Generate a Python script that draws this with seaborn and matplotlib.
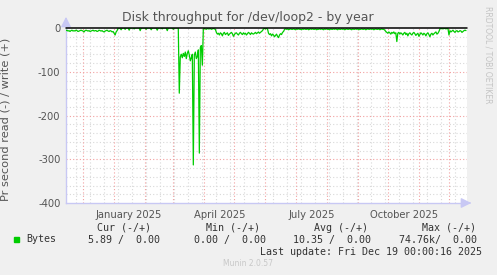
import matplotlib
matplotlib.use("Agg")
import matplotlib.pyplot as plt
import matplotlib.dates as mdates
import seaborn as sns
import numpy as np
import pandas as pd

# ---------------- data ----------------
start_date = "2024-11-14 00:16"
end_date = "2025-12-19 00:16"

seg_a = [6,5,7,6,8,6,5,7,6,7, 5,6,8,7,6,5,6,7,9,6, 5,6,7,6,8,7,6,5,7,6,
         6,8,7,5,6,7,6,8,9,7, 6,5,7,8,6,7,9,8,12,16, 9,6]
seg_b = [0,0,1,4,0,0,0,3,0,0, 0,5,0,0,0,0,2,0,0,0, 0,0,6,0,0,0,0,0,3,0,
         0,0,0,4,0,0,0,0,0,5, 0,0,0,0,2,0,0,0,0,6, 0,0,0,0,0,3,0,0,0,0, 0]
seg_c = [149, 66,60,68,58,65,55,70,58,52,62,75,68,60, 313, 62,55,70,65,50,
         286,45,40,85]
seg_d = [2,1,2,3,1,2,2,1,3,2,1,2,3]
seg_e = [10,14,12,16,11,13,18,12,10,15, 13,11,17,14,12,10,13,19,15,12,
         11,14,16,12,10,13,15,11,14,12, 16,13,10,12,15,11,13,14,12,10,
         13,11,9,12,10,8,6]
seg_f = [2,1,2,1,2]
seg_g = [12,15,13,18,14,16,20,17,14,19,22,16,13,15,10,8]
seg_h = [3,2,3,2,4,3,2,3,3,2, 3,4,2,3,2,3,3,4,2,3, 2,3,3,2,4,3,2,3,2,3,
         3,2,4,3,3,2,3,2,3,4, 2,3,2,3,3,4,2,3,3,2, 3,2,3,4,2,3,3,2,3,2,
         4,3,2,3,3,2,3,4,2,3, 3,2,3,2,4,3,3,2,3,3, 2,4,3,2,3,3,2,3,2,4,
         3,2,3,3,2,4,3,2,3,3, 5]
seg_i = [8,10,12,9,11,14,10,12,9,13, 11,31,12,10,14,11,13,16,12,10,
         15,12,18,13,11,14,16,12,10,13, 17,14,12,19,15,11,13,16,12,14,
         18,13,11,15,20,14,12,16,13,11, 9,14,12,8]
seg_j = [2,1,1,2,1,1,2,1,1]
seg_k = [16]
seg_l = [6,9,7,5,8,10,7,6,9,8,6,7,10,8,6,5,6]

read_values = seg_a + seg_b + seg_c + seg_d + seg_e + seg_f + seg_g + seg_h + seg_i + seg_j + seg_k + seg_l

y_ticks = [0, -100, -200, -300, -400]
month_labels = ["January 2025", "April 2025", "July 2025", "October 2025"]
month_label_dates = ["2025-01-16", "2025-04-16", "2025-07-17", "2025-10-17"]

title = "Disk throughput for /dev/loop2 - by year"
ylabel = "Pr second read (-) / write (+)"
legend_headers = ["Cur (-/+)", "Min (-/+)", "Avg (-/+)", "Max (-/+)"]
legend_values = ["5.89 /  0.00", "0.00 /  0.00", "10.35 /  0.00", "74.76k/  0.00"]
series_name = "Bytes"
last_update = "Last update: Fri Dec 19 00:00:16 2025"
footer = "Munin 2.0.57"
side_text = "RRDTOOL / TOBI OETIKER"

# ---------------- figure ----------------
sns.set_theme(style="white")
plt.rcParams['font.family'] = ['DejaVu Sans']

W, H = 497, 275
fig = plt.figure(figsize=(W / 100, H / 100), dpi=100, facecolor="#F0F0F0")
ax = fig.add_axes([66 / W, 1 - 203 / H, 401 / W, 175 / H])
ax.set_facecolor("white")

dates = pd.date_range(start_date, periods=len(read_values), freq="D")
df = pd.DataFrame({"date": dates, "value": [-v for v in read_values]})

t0 = pd.Timestamp(start_date)
t1 = pd.Timestamp(end_date)
ax.set_xlim(t0, t1)
ax.set_ylim(-400, 0)

# grid lines
minor_grid = "#D8D8D8"
major_grid = "#F2A0A0"
for v in range(-380, 0, 20):
    if v % 100 != 0:
        ax.axhline(v, color=minor_grid, lw=0.8, ls=(0, (1, 2)), zorder=1)
for v in [-100, -200, -300]:
    ax.axhline(v, color=major_grid, lw=0.8, ls=(0, (1, 2)), zorder=1.5)
for d in pd.date_range("2024-11-24", t1, freq="14D"):
    ax.axvline(d, color=minor_grid, lw=0.8, ls=(0, (1, 2)), zorder=1)
for d in pd.date_range("2024-12-01", t1, freq="MS"):
    ax.axvline(d, color=major_grid, lw=0.8, ls=(0, (1, 2)), zorder=1.5)

sns.lineplot(data=df, x="date", y="value", ax=ax, color="#00CC00", lw=0.9,
             legend=False, zorder=3)
ax.axhline(0, color="black", lw=1.1, zorder=4, clip_on=False)

# ticks
ax.set_yticks(y_ticks)
ax.set_yticklabels([str(v) for v in y_ticks])
ax.set_xticks(pd.to_datetime(month_label_dates))
ax.set_xticklabels(month_labels)
ax.tick_params(axis="both", length=0, labelsize=7.2, labelcolor="#555555", pad=4)
ax.tick_params(axis="x", pad=5)
ax.set_xlabel("")
ax.set_ylabel(ylabel, fontsize=8.2, color="#555555")
ax.yaxis.set_label_coords((10 - 66) / 401, 0.48)

for s in ["top", "right"]:
    ax.spines[s].set_visible(False)
axis_col = "#C8C8F4"
for s in ["left", "bottom"]:
    ax.spines[s].set_color(axis_col)
    ax.spines[s].set_linewidth(1.0)

# arrows
ax.annotate("", xy=(66 / W, 1 - 14 / H), xytext=(66 / W, 1 - 28 / H),
            xycoords="figure fraction",
            arrowprops=dict(arrowstyle="-|>,head_length=0.5,head_width=0.25",
                            color=axis_col, lw=1.0))
ax.annotate("", xy=(474 / W, 1 - 203 / H), xytext=(466 / W, 1 - 203 / H),
            xycoords="figure fraction",
            arrowprops=dict(arrowstyle="-|>,head_length=0.5,head_width=0.25",
                            color=axis_col, lw=1.0))

# texts
fig.text(248 / W, 1 - 18 / H, title, ha="center", va="center",
         fontsize=9.0, color="#555555")
fig.text(488 / W, 1 - 6 / H, side_text, ha="center", va="top", rotation=270,
         fontsize=5.5, color="#C4C4C4")

mono = "DejaVu Sans Mono"
fs = 7.2
tc = "#333333"
header_right = [151, 260, 368, 476]
value_right = [160, 266, 371, 477]
for h, xr in zip(legend_headers, header_right):
    fig.text(xr / W, 1 - 228 / H, h, ha="right", va="center", family=mono,
             fontsize=fs, color=tc)
for v, xr in zip(legend_values, value_right):
    fig.text(xr / W, 1 - 239.5 / H, v, ha="right", va="center", family=mono,
             fontsize=fs, color=tc)
fig.patches.append(plt.Rectangle((14 / W, 1 - 242 / H), 5 / W, 5 / H,
                                 transform=fig.transFigure, color="#00CC00"))
fig.text(26 / W, 1 - 239.5 / H, series_name, ha="left", va="center",
         family=mono, fontsize=fs, color=tc)
fig.text(482 / W, 1 - 252 / H, last_update, ha="right", va="center",
         family=mono, fontsize=fs, color=tc)
fig.text(248 / W, 1 - 264 / H, footer, ha="center", va="center",
         fontsize=5.5, color="#C8C8C8")

fig.savefig("out.png", dpi=100, facecolor=fig.get_facecolor())
